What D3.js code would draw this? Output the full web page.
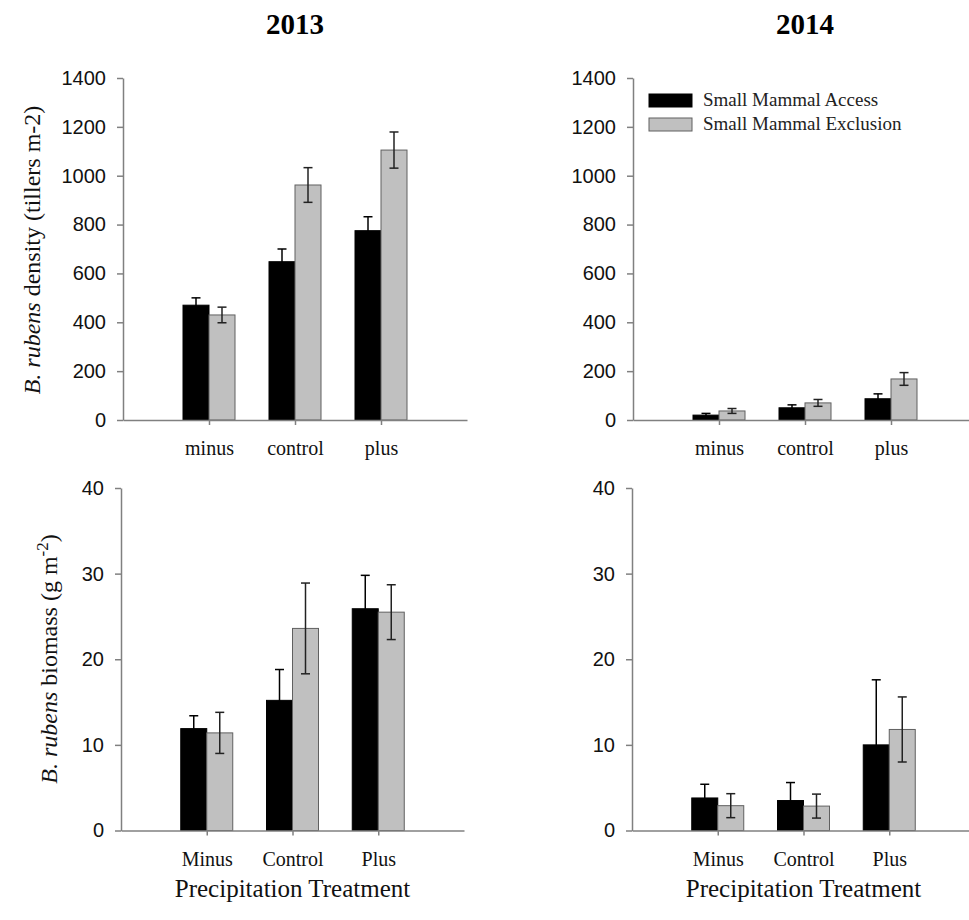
<!DOCTYPE html>
<html>
<head>
<meta charset="utf-8">
<script src="https://cdn.jsdelivr.net/npm/d3@7"></script>
<style>
  body { margin: 0; background: #fff; }
  .serif { font-family: "Liberation Serif", "Times New Roman", serif; }
</style>
</head>
<body>
<div id="root"></div>
<script>
// categories
var catsTop = ["minus", "control", "plus"]
var catsBottom = ["Minus", "Control", "Plus"]
var years = ["2013", "2014"]
var legendNames = ["Small Mammal Access", "Small Mammal Exclusion"]

// density (tillers m-2), means and SE
var dens2013Access = [470, 648, 775]
var dens2013AccessErr = [30, 52, 57]
var dens2013Excl = [430, 962, 1105]
var dens2013ExclErr = [32, 71, 74]
var dens2014Access = [20, 50, 87]
var dens2014AccessErr = [7, 12, 20]
var dens2014Excl = [37, 70, 168]
var dens2014ExclErr = [10, 14, 26]

// biomass (g m-2)
var bio2013Access = [11.9, 15.2, 25.9]
var bio2013AccessErr = [1.5, 3.6, 3.9]
var bio2013Excl = [11.4, 23.6, 25.5]
var bio2013ExclErr = [2.4, 5.3, 3.2]
var bio2014Access = [3.8, 3.5, 10.0]
var bio2014AccessErr = [1.6, 2.1, 7.6]
var bio2014Excl = [2.9, 2.85, 11.8]
var bio2014ExclErr = [1.4, 1.4, 3.8]

var densTicks = [0, 200, 400, 600, 800, 1000, 1200, 1400]
var bioTicks = [0, 10, 20, 30, 40]

var width = 969, height = 920
var svg = d3.select("#root").append("svg")
    .attr("width", width)
    .attr("height", height)

var axisColor = "#808080"
var barW = 26

function panel(opts) {
    var x = d3.scaleLinear().domain([0, 4]).range([opts.x0, opts.x1])
    var y = d3.scaleLinear().domain([0, opts.ymax]).range([opts.y0, opts.y1])
    var g = svg.append("g")

    // bars
    var series = [
        { vals: opts.access, errs: opts.accessErr, fill: "#000", stroke: "#000", err: "#000", dx: -barW },
        { vals: opts.excl, errs: opts.exclErr, fill: "#c0c0c0", stroke: "#606060", err: "#222", dx: 0 }
    ]
    series.forEach(function (s) {
        var d = s.vals.map(function (v, i) { return { i: i + 1, v: v, e: s.errs[i] } })
        g.selectAll(null).data(d).enter().append("rect")
            .attr("x", function (d) { return x(d.i) + s.dx })
            .attr("y", function (d) { return y(d.v) })
            .attr("width", barW)
            .attr("height", function (d) { return y(0) - y(d.v) })
            .attr("fill", s.fill)
            .attr("stroke", s.stroke)
            .attr("stroke-width", 1)
        var eb = g.selectAll(null).data(d).enter().append("g")
            .attr("stroke", s.err)
            .attr("stroke-width", 1.5)
        eb.append("line")
            .attr("x1", function (d) { return x(d.i) + s.dx + barW / 2 })
            .attr("x2", function (d) { return x(d.i) + s.dx + barW / 2 })
            .attr("y1", function (d) { return y(d.v - d.e) })
            .attr("y2", function (d) { return y(d.v + d.e) })
        ;[1, -1].forEach(function (sg) {
            eb.append("line")
                .attr("x1", function (d) { return x(d.i) + s.dx + barW / 2 - 4.5 })
                .attr("x2", function (d) { return x(d.i) + s.dx + barW / 2 + 4.5 })
                .attr("y1", function (d) { return y(d.v + sg * d.e) })
                .attr("y2", function (d) { return y(d.v + sg * d.e) })
        })
    })

    // axes
    var xa = g.append("g")
        .attr("transform", "translate(0," + opts.y0 + ")")
        .call(d3.axisBottom(x).tickValues([1, 2, 3])
            .tickFormat(function (d) { return opts.cats[d - 1] })
            .tickSize(5).tickSizeOuter(0).tickPadding(16))
    xa.selectAll("text")
        .style("font-family", '"Liberation Serif", serif')
        .style("font-size", "20px")
        .attr("fill", "#111")
    var ya = g.append("g")
        .attr("transform", "translate(" + opts.x0 + ",0)")
        .call(d3.axisLeft(y).tickValues(opts.ticks).tickFormat(d3.format("d"))
            .tickSize(6).tickSizeOuter(0).tickPadding(11))
    ya.selectAll("text")
        .style("font-family", '"Liberation Sans", Arial, sans-serif')
        .style("font-size", "20px")
        .attr("fill", "#111")
    g.selectAll(".domain, .tick line")
        .attr("stroke", axisColor)
        .attr("stroke-width", 1.5)
    return { x: x, y: y }
}

var p1 = panel({ x0: 123, x1: 467, y0: 420, y1: 78, ymax: 1400, ticks: densTicks, cats: catsTop,
    access: dens2013Access, accessErr: dens2013AccessErr, excl: dens2013Excl, exclErr: dens2013ExclErr })
var p2 = panel({ x0: 633, x1: 977, y0: 420, y1: 78, ymax: 1400, ticks: densTicks, cats: catsTop,
    access: dens2014Access, accessErr: dens2014AccessErr, excl: dens2014Excl, exclErr: dens2014ExclErr })
var p3 = panel({ x0: 121, x1: 464, y0: 830.5, y1: 488, ymax: 40, ticks: bioTicks, cats: catsBottom,
    access: bio2013Access, accessErr: bio2013AccessErr, excl: bio2013Excl, exclErr: bio2013ExclErr })
var p4 = panel({ x0: 632, x1: 975, y0: 830.5, y1: 488, ymax: 40, ticks: bioTicks, cats: catsBottom,
    access: bio2014Access, accessErr: bio2014AccessErr, excl: bio2014Excl, exclErr: bio2014ExclErr })

// titles
;[p1, p2].forEach(function (p, i) {
    svg.append("text")
        .attr("class", "serif")
        .attr("x", p.x(2))
        .attr("y", 34)
        .attr("text-anchor", "middle")
        .style("font-size", "29px")
        .style("font-weight", "bold")
        .text(years[i])
})

// x titles
;[p3, p4].forEach(function (p) {
    svg.append("text")
        .attr("class", "serif")
        .attr("x", p.x(2))
        .attr("y", 897)
        .attr("text-anchor", "middle")
        .style("font-size", "25px")
        .attr("fill", "#111")
        .text("Precipitation Treatment")
})

// y titles
var yt1 = svg.append("text")
    .attr("class", "serif")
    .attr("transform", "translate(40,250) rotate(-90)")
    .attr("text-anchor", "middle")
    .style("font-size", "24px")
    .attr("fill", "#111")
yt1.append("tspan").style("font-style", "italic").text("B. rubens")
yt1.append("tspan").text(" density (tillers m-2)")

var yt2 = svg.append("text")
    .attr("class", "serif")
    .attr("transform", "translate(57,659) rotate(-90)")
    .attr("text-anchor", "middle")
    .style("font-size", "24px")
    .attr("fill", "#111")
yt2.append("tspan").style("font-style", "italic").text("B. rubens")
yt2.append("tspan").text(" biomass (g m")
yt2.append("tspan").attr("dy", -9).style("font-size", "17px").text("-2")
yt2.append("tspan").attr("dy", 9).text(")")

// legend
var legColors = [["#000", "#000"], ["#c0c0c0", "#606060"]]
var leg = svg.append("g")
legendNames.forEach(function (n, i) {
    leg.append("rect")
        .attr("x", 649)
        .attr("y", 94 + i * 24)
        .attr("width", 43)
        .attr("height", 13)
        .attr("fill", legColors[i][0])
        .attr("stroke", legColors[i][1])
        .attr("stroke-width", 1)
    leg.append("text")
        .attr("class", "serif")
        .attr("x", 703)
        .attr("y", 106 + i * 24)
        .style("font-size", "19px")
        .attr("fill", "#222")
        .text(n)
})
</script>
</body>
</html>
